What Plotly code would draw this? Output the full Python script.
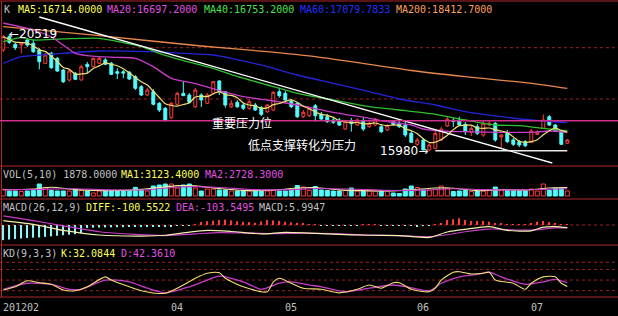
import plotly.graph_objects as go

# ---------------- data ----------------
opens = [19910, 20429, 20132, 20105, 20300, 20171, 19910, 19391, 19781, 19586,
         19130, 18740, 19001, 18740, 19352, 19259, 19391, 19520, 19391, 19064,
         19060, 19040, 18869, 18479, 18155, 18284, 17831, 17636, 17270, 17792,
         18221, 18155, 17699, 18155, 17831, 18221, 18701, 18284, 17699, 17870,
         17765, 17636, 17765, 17660, 17504, 17570, 18284, 18221, 17921, 17831,
         17309, 17348, 17738, 17402, 17309, 17180, 17180, 16829, 17150, 16985,
         17141, 16919, 16985, 16919, 16790, 17114, 17050, 16985, 16661, 16232,
         16400, 16010, 16076, 16400, 16946, 17170, 17180, 17012, 16700, 16919,
         16595, 16985, 17050, 16517, 16661, 16400, 16334, 16334, 16310, 16622,
         16856, 17309, 16985, 16724, 16270]
highs = [20495, 20519, 20234, 20222, 20378, 20300, 19988, 19793, 19844, 19637,
         19169, 19157, 19052, 19325, 19442, 19610, 19637, 19598, 19442, 19196,
         19130, 19091, 18935, 18545, 18440, 18389, 17882, 17687, 17882, 18284,
         18674, 18233, 18428, 18221, 18233, 18701, 18740, 18311, 17960, 17960,
         17843, 17999, 17843, 17726, 17804, 18311, 18440, 18311, 17999, 17882,
         17570, 17687, 17804, 17492, 17414, 17258, 17258, 17180, 17258, 17246,
         17258, 17141, 17258, 17024, 17024, 17180, 17141, 17102, 16751, 16478,
         16478, 16283, 16751, 16907, 17297, 17258, 17309, 17102, 16946, 17024,
         17141, 17180, 17102, 16634, 16790, 16478, 16400, 16400, 16829, 16790,
         17402, 17375, 17024, 16790, 16440]
lows = [19832, 20144, 19910, 19781, 20027, 19793, 19157, 19364, 19169, 19052,
        18623, 18674, 18740, 18720, 19013, 19247, 19364, 19325, 18935, 18779,
        18806, 18740, 18350, 18116, 18116, 17753, 17492, 17114, 17219, 17765,
        18116, 17843, 17648, 17687, 17804, 18155, 18155, 17660, 17648, 17648,
        17570, 17570, 17531, 17336, 17453, 17531, 18050, 17921, 17648, 17258,
        17258, 17297, 17114, 17180, 17063, 17024, 16946, 16790, 16724, 16946,
        16751, 16868, 16946, 16673, 16751, 16946, 16868, 16517, 16283, 16166,
        16000, 15980, 16049, 16361, 16907, 16907, 16946, 16595, 16556, 16595,
        16517, 16946, 16334, 16076, 16283, 16166, 16127, 16127, 16283, 16595,
        16829, 16946, 16712, 16205, 16244]
closes = [20429, 20210, 20000, 20171, 20105, 19844, 19454, 19715, 19220, 19091,
          18674, 19091, 18767, 19259, 19259, 19586, 19586, 19352, 18962, 19001,
          19010, 18779, 18416, 18155, 18350, 17792, 17570, 17180, 17831, 18221,
          18128, 17870, 18350, 17960, 18155, 18674, 18284, 17765, 17831, 17699,
          17636, 17894, 17570, 17402, 17765, 18260, 18128, 17960, 17699, 17309,
          17480, 17636, 17348, 17219, 17114, 17090, 16985, 17114, 17040, 17180,
          16829, 17050, 17219, 16724, 16958, 17012, 16919, 16595, 16310, 16400,
          16010, 16205, 16661, 16829, 17207, 17120, 16985, 16724, 16855, 16661,
          17050, 17050, 16400, 16595, 16334, 16232, 16205, 16178, 16751, 16700,
          17180, 16985, 16751, 16232, 16400]

volumes = [2500, 1875, 1875, 1690, 1875, 2060, 4500, 3250, 2060, 1875,
           1875, 1875, 2500, 2060, 1875, 1125, 1875, 1875, 1875, 1875,
           1875, 2060, 3250, 2250, 1875, 3750, 4125, 4500, 4500, 3000,
           4125, 4500, 3000, 1875, 2625, 2625, 2250, 2250, 1875, 1875,
           1875, 1875, 1875, 1875, 1875, 2250, 1875, 1875, 2250, 3940,
           3375, 2060, 3560, 2250, 2060, 1875, 1875, 2060, 3000, 1875,
           1875, 1875, 1875, 2060, 1875, 1125, 940, 2625, 3750, 3190,
           2250, 2250, 2440, 3750, 3000, 1690, 1875, 2060, 1690, 1875,
           1875, 2250, 3375, 2250, 2060, 1875, 1875, 1875, 2625, 1875,
           4500, 2060, 3000, 3000, 1878]

macd_hist = [-560, -540, -520, -500, -480, -470, -460, -440, -420, -400,
             -380, -360, -340, -300, -110, -100, -95, -90, -85, -80,
             -80, -75, -75, -70, -70, -60, -60, -50, -40, -30,
             -20, -10, 10, 110, 140, 160, 190, 200, 170, 140,
             120, 110, 80, 130, 190, 170, 150, 120, 100, 80,
             60, 30, 10, -10, -20, -30, -30, -20, -20, -10,
             10, 20, 10, -10, -20, -30, -30, -20, -30, -40,
             -30, -20, 10, 60, 185, 210, 248, 185, 148, 148,
             148, 123, 62, 40, 20, 10, 10, 20, 40, 123,
             148, 110, 62, 30, 6]

# moving-average lines read at selected candles (index, value)
ma20_idx = [0, 2, 5, 8, 10, 12, 14, 16, 19, 22, 25, 28, 32, 36, 40, 44, 49, 55, 61, 64, 66, 68, 70, 73, 77, 83, 88, 91, 94]
ma20_val = [20963, 20860, 20690, 20417, 20100, 19781, 19690, 19649, 19620, 19586, 19259, 18806, 18600, 18330, 18089, 17960, 17765, 17480, 17246, 17114, 17051, 16985, 16829, 16751, 16724, 16700, 16700, 16751, 16697.2]
ma40_idx = [0, 3, 5, 10, 16, 20, 23, 27, 30, 35, 38, 44, 49, 55, 61, 66, 72, 77, 82, 86, 90, 94]
ma40_val = [20234, 20390, 20300, 20340, 20366, 20200, 20039, 19700, 19500, 19196, 18950, 18545, 18221, 17960, 17699, 17570, 17402, 17180, 16985, 16958, 16856, 16753.2]
ma60_idx = [0, 3, 8, 16, 24, 30, 35, 38, 44, 49, 55, 61, 66, 72, 77, 83, 88, 94]
ma60_val = [19391, 19649, 19742, 19871, 19844, 19781, 19715, 19586, 19259, 18935, 18611, 18284, 17999, 17765, 17504, 17309, 17180, 17079.8]
ma200_idx = [0, 16, 33, 44, 52, 68, 77, 88, 94]
ma200_val = [20819, 20470, 20066, 19844, 19649, 19110, 18869, 18611, 18412.7]

vma1_idx = [0, 5, 8, 12, 18, 22, 26, 29, 32, 36, 40, 45, 49, 52, 56, 60, 64, 68, 72, 75, 79, 83, 87, 91, 94]
vma1_val = [2400, 2600, 3300, 2400, 2000, 2300, 3200, 3900, 3800, 2800, 2100, 2200, 3000, 3200, 2300, 2000, 1900, 2300, 3000, 2900, 2000, 2400, 2200, 3000, 3123.4]
vma2_idx = [0, 6, 12, 18, 24, 28, 32, 36, 42, 48, 52, 58, 64, 70, 75, 80, 86, 90, 94]
vma2_val = [2300, 2500, 2700, 2300, 2300, 3200, 3500, 3200, 2400, 2400, 2800, 2600, 2100, 2200, 2700, 2400, 2300, 2500, 2728.3]

diff_idx = [0, 5, 10, 16, 23, 27, 31, 34, 38, 43, 47, 51, 55, 61, 66, 71, 74, 77, 81, 84, 88, 90, 92, 94]
diff_val = [160, 20, -200, -370, -410, -380, -260, -200, -240, -330, -270, -300, -340, -380, -390, -460, -260, -160, -60, -200, -215, -80, -60, -100.55]
dea_idx = [0, 5, 10, 16, 22, 27, 32, 36, 40, 45, 50, 55, 61, 66, 71, 74, 77, 81, 84, 88, 92, 94]
dea_val = [340, 160, -30, -250, -350, -390, -330, -280, -290, -320, -300, -320, -370, -390, -430, -360, -250, -150, -170, -190, -110, -103.55]

k_idx = [0, 2, 4, 6, 8, 10, 12, 14, 17, 18, 21, 23, 27, 30, 32, 34, 36, 37, 40, 44, 45, 46, 48, 50, 53, 56, 59, 61, 63, 65, 66, 68, 71, 72, 73, 75, 76, 78, 80, 81, 82, 85, 87, 88, 90, 92, 93, 94]
k_val = [22, 31, 48, 42.5, 38, 22, 20, 31, 59, 50, 31, 20, 12.7, 36, 55, 69, 70.7, 55, 31, 17, 45, 55, 41, 27, 24, 14, 24, 36, 27, 42.5, 42.5, 24, 17, 27, 50, 72, 73.5, 67, 69, 72, 50, 41, 24, 41, 59, 59, 41, 32.08]
d_idx = [0, 4, 8, 11, 13, 17, 21, 24, 27, 31, 34, 36, 40, 43, 46, 48, 51, 53, 57, 61, 65, 68, 71, 73, 76, 79, 81, 83, 87, 90, 92, 94]
d_val = [24, 41, 38, 24, 24, 50, 45, 27, 14, 31, 50, 61, 45, 24, 41, 45, 36, 31, 17, 27, 36, 28, 20, 41, 59, 66, 72, 59, 38, 45, 52, 42.36]

# drawn lines on the chart
trend_idx = [6, 91.5]
trend_val = [21197, 15503]
support_idx = [72, 94]
support_val = [15980, 15980]
pressure_level = 17150
grid_levels = [20000, 18000]
kd_levels = [20, 50, 80, 100]

month_idx = [0, 28, 47, 69, 88]
month_lbl = ["201202", "04", "05", "06", "07"]

# ---------------- figure ----------------
W, H = 618, 316
def py(p):
    return 1 - p / H

UP = "#ff3c3c"
DN = "#54fcfc"
SEP = "#b02828"
MONO = "DejaVu Sans Mono"

n = len(opens)
idx = list(range(n))

# MA5 from closes
ma5 = []
for i in range(n):
    w = closes[max(0, i - 4): i + 1]
    ma5.append(sum(w) / len(w))

fig = go.Figure()
fig.add_trace(go.Candlestick(
    x=idx, open=opens, high=highs, low=lows, close=closes,
    increasing=dict(line=dict(color=UP, width=1), fillcolor="#000000"),
    decreasing=dict(line=dict(color=DN, width=1), fillcolor=DN),
    whiskerwidth=0, hoverinfo="skip", showlegend=False, xaxis="x", yaxis="y"))

def line(xs, ys, col, ax, w=1.3, smooth=True):
    fig.add_trace(go.Scatter(
        x=xs, y=ys, mode="lines",
        line=dict(color=col, width=w, shape="spline" if smooth else "linear", smoothing=0.7),
        hoverinfo="skip", showlegend=False, xaxis="x", yaxis=ax))

line(ma200_idx, ma200_val, "#e8884a", "y")
line(ma60_idx, ma60_val, "#2424d8", "y")
line(ma40_idx, ma40_val, "#30c030", "y")
line(ma20_idx, ma20_val, "#c83cc8", "y")
line(idx, ma5, "#f0e070", "y", w=1.2)
line(trend_idx, trend_val, "#ffffff", "y", w=1.3, smooth=False)
line(support_idx, support_val, "#e8e8e8", "y", w=1.5, smooth=False)

# volume
vfill = ["#000000" if c >= o else DN for o, c in zip(opens, closes)]
vline = [UP if c >= o else DN for o, c in zip(opens, closes)]
fig.add_trace(go.Bar(x=idx, y=volumes, width=0.68,
                     marker=dict(color=vfill, line=dict(color=vline, width=1)),
                     hoverinfo="skip", showlegend=False, xaxis="x", yaxis="y2"))
line(vma1_idx, vma1_val, "#f0f0a0", "y2", w=1.1)
line(vma2_idx, vma2_val, "#c83cc8", "y2", w=1.1)

# MACD
mcol = [UP if v >= 0 else "#8cf4f4" for v in macd_hist]
fig.add_trace(go.Bar(x=idx, y=macd_hist, width=0.25,
                     marker=dict(color=mcol, line=dict(width=0)),
                     hoverinfo="skip", showlegend=False, xaxis="x", yaxis="y3"))
line(dea_idx, dea_val, "#c83cc8", "y3", w=1.2)
line(diff_idx, diff_val, "#f4f0b0", "y3", w=1.2)

# KD
line(d_idx, d_val, "#c83cc8", "y4", w=1.3)
line(k_idx, k_val, "#f0e070", "y4", w=1.1)

shapes = []
for p in [1, 166, 199, 245, 297]:
    shapes.append(dict(type="line", xref="paper", yref="paper", x0=0, x1=1,
                       y0=py(p), y1=py(p), line=dict(color=SEP, width=1)))
shapes.append(dict(type="line", xref="paper", yref="paper", x0=1.5 / W, x1=1.5 / W,
                   y0=py(297), y1=py(1), line=dict(color=SEP, width=1)))
for g in grid_levels:
    shapes.append(dict(type="line", xref="paper", yref="y", x0=0, x1=1, y0=g, y1=g,
                       line=dict(color="#a02020", width=1, dash="dot"), layer="below"))
shapes.append(dict(type="line", xref="paper", yref="y3", x0=0, x1=1, y0=0, y1=0,
                   line=dict(color="#a02020", width=1, dash="dot"), layer="below"))
for g in kd_levels:
    shapes.append(dict(type="line", xref="paper", yref="y4", x0=0, x1=1, y0=g, y1=g,
                       line=dict(color="#a02020", width=1, dash="dot"), layer="below"))
shapes.append(dict(type="line", xref="paper", yref="y", x0=0, x1=1,
                   y0=pressure_level, y1=pressure_level,
                   line=dict(color="#d0308a", width=1.3)))

ann = []
def txt(s, xpx, ypx, col, size=10, fam=MONO):
    ann.append(dict(text=s, xref="paper", yref="paper", x=(xpx - 1) / W, y=py(ypx),
                    xanchor="left", yanchor="middle", showarrow=False,
                    font=dict(family=fam, size=size, color=col)))

GRAY = "#c0c0c0"
YEL = "#ffff5a"
MAG = "#e050e0"
txt("K", 3, 9, GRAY)
txt("MA5:16714.0000", 17, 9, YEL)
txt("MA20:16697.2000", 106, 9, MAG)
txt("MA40:16753.2000", 203, 9, "#50e050")
txt("MA60:17079.7833", 299, 9, "#2030ff")
txt("MA200:18412.7000", 395, 9, "#ffa060")
txt("VOL(5,10) 1878.0000", 2, 175, GRAY)
txt("MA1:3123.4000", 120, 175, YEL)
txt("MA2:2728.3000", 204, 175, MAG)
txt("MACD(26,12,9)", 2, 207.5, GRAY)
txt("DIFF:-100.5522", 85, 207.5, YEL)
txt("DEA:-103.5495", 175, 207.5, MAG)
txt("MACD:5.9947", 258, 207.5, GRAY)
txt("KD(9,3,3)", 2, 254, GRAY)
txt("K:32.0844", 60, 254, YEL)
txt("D:42.3610", 120, 254, MAG)

for mi, ml in zip(month_idx, month_lbl):
    ann.append(dict(text=ml, xref="x", yref="paper", x=mi, y=py(307.5), xshift=-2,
                    xanchor="left", yanchor="middle", showarrow=False,
                    font=dict(family=MONO, size=10, color=GRAY)))

ann.append(dict(text="←20519", xref="paper", yref="y", x=7 / W, y=20519,
                xanchor="left", yanchor="middle", showarrow=False,
                font=dict(family="DejaVu Sans", size=12, color="#ffffff")))
ann.append(dict(text="15980→", xref="paper", yref="y", x=430 / W, y=15980,
                xanchor="right", yanchor="middle", showarrow=False,
                font=dict(family="DejaVu Sans", size=12, color="#ffffff")))
ann.append(dict(text="重要压力位", xref="paper", yref="paper", x=242.5 / W, y=py(122.5),
                xanchor="center", yanchor="middle", showarrow=False,
                font=dict(family="Noto Sans CJK SC", size=12, color="#ffffff")))
ann.append(dict(text="低点支撑转化为压力", xref="paper", yref="paper", x=302 / W, y=py(144),
                xanchor="center", yanchor="middle", showarrow=False,
                font=dict(family="Noto Sans CJK SC", size=12, color="#ffffff")))

fig.update_layout(
    width=W, height=H, margin=dict(l=0, r=0, t=0, b=0),
    paper_bgcolor="#000000", plot_bgcolor="#000000",
    showlegend=False, barmode="overlay", boxgap=0.3,
    xaxis=dict(range=[-0.55, 102.45], domain=[0, 1], visible=False,
               rangeslider=dict(visible=False), anchor="y4", fixedrange=True),
    yaxis=dict(domain=[py(166), py(2)], range=[15386, 21782], visible=False, anchor="x"),
    yaxis2=dict(domain=[py(198), py(167)], range=[-750, 10875], visible=False, anchor="x"),
    yaxis3=dict(domain=[py(244), py(200)], range=[-703, 925], visible=False, anchor="x"),
    yaxis4=dict(domain=[py(297), py(246)], range=[2.25, 145.9], visible=False, anchor="x"),
    shapes=shapes, annotations=ann,
)

fig.write_html("out.html", config={"displayModeBar": False})
